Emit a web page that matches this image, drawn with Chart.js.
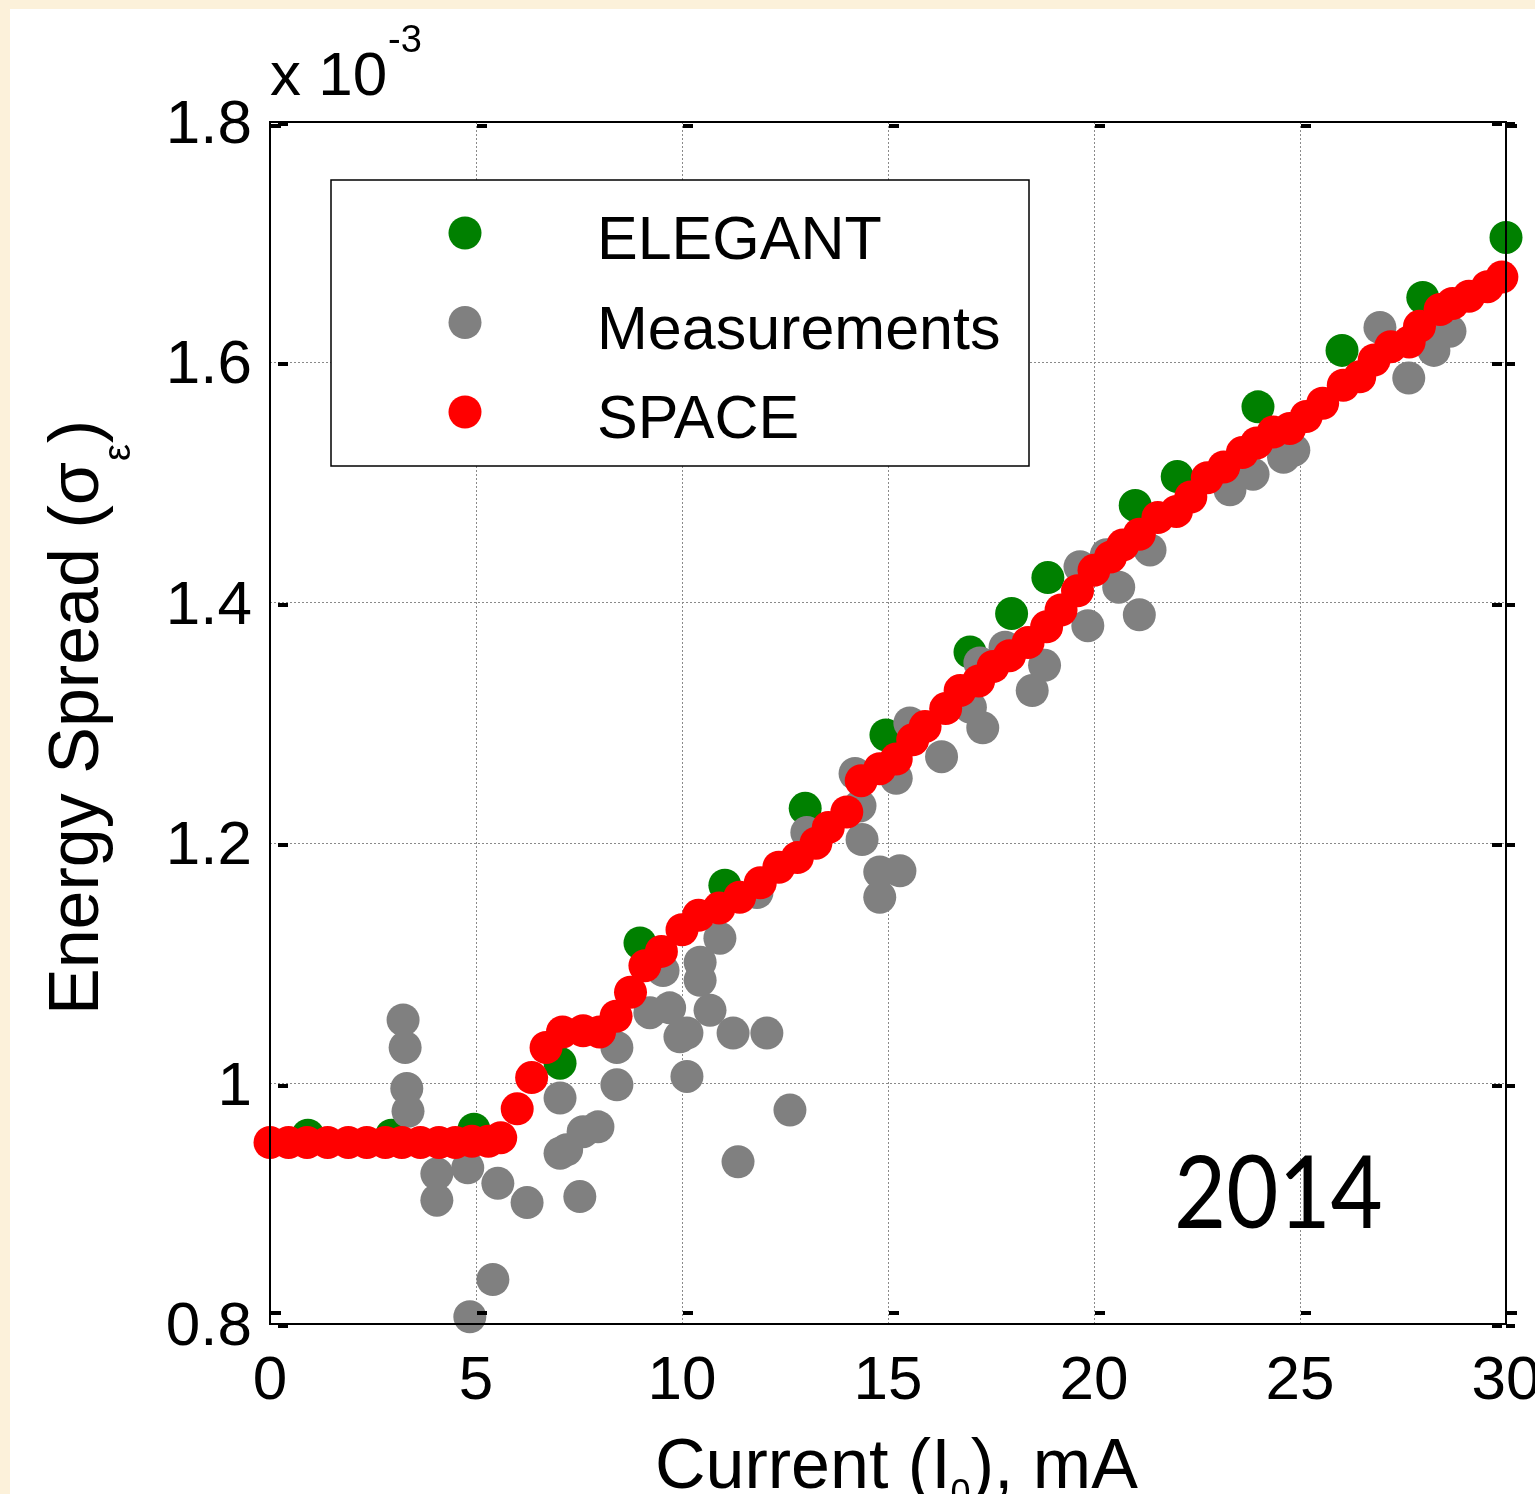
<!DOCTYPE html>
<html>
<head>
<meta charset="utf-8">
<title>Energy spread vs current</title>
<script src="https://cdn.jsdelivr.net/npm/chart.js@4/dist/chart.umd.min.js"></script>
<style>
  html, body { margin: 0; padding: 0; background: #fcf1da; }
  #wrap { width: 1535px; height: 1494px; }
</style>
</head>
<body>
<div id="wrap"><canvas id="chart" width="1535" height="1494"></canvas></div>
<script>
// axes (values of sigma in units of 1e-3)
const xTicks = [0, 5, 10, 15, 20, 25, 30];
const yTicks = [0.8, 1, 1.2, 1.4, 1.6, 1.8];
const seriesNames = ['ELEGANT', 'Measurements', 'SPACE'];
const seriesColors = ['#008000', '#808080', '#ff0000'];

// ELEGANT
const elegantX = [0.92, 2.95, 4.95, 7.04, 8.98, 11.04, 12.99, 14.95, 16.99, 18.0, 18.88, 21.0, 22.02, 23.98, 26.02, 27.98, 30.0];
const elegantY = [0.957, 0.957, 0.962, 1.017, 1.117, 1.165, 1.229, 1.290, 1.359, 1.391, 1.421, 1.481, 1.505, 1.563, 1.610, 1.654, 1.704];

// Measurements
const measX = [3.23, 3.28, 3.32, 3.35, 4.05, 4.05, 4.8, 4.85, 5.41, 5.53, 6.24, 7.04, 7.04, 7.2, 7.52, 7.6, 7.96,
  8.42, 8.42, 9.22, 9.54, 9.7, 9.95, 10.12, 10.12, 10.44, 10.44, 10.68, 10.92, 11.24, 11.36, 11.82, 12.06, 12.62,
  13.03, 14.2, 14.32, 14.37, 14.8, 14.8, 15.2, 15.29, 15.53, 16.3, 17.0, 17.23, 17.3, 17.84, 18.5, 18.8,
  19.66, 19.85, 20.3, 20.6, 21.1, 21.36, 23.3, 23.86, 24.6, 24.85, 26.94, 27.64, 28.25, 28.64];
const measY = [1.053, 1.030, 0.996, 0.977, 0.925, 0.903, 0.930, 0.806, 0.837, 0.917, 0.901, 0.988, 0.942, 0.945, 0.906, 0.960, 0.964,
  0.999, 1.030, 1.059, 1.094, 1.063, 1.039, 1.042, 1.006, 1.101, 1.086, 1.061, 1.121, 1.042, 0.935, 1.159, 1.042, 0.978,
  1.209, 1.258, 1.231, 1.203, 1.176, 1.155, 1.254, 1.177, 1.300, 1.272, 1.313, 1.350, 1.296, 1.363, 1.327, 1.348,
  1.430, 1.381, 1.440, 1.413, 1.390, 1.444, 1.494, 1.507, 1.521, 1.527, 1.629, 1.587, 1.610, 1.626];

// SPACE
const spaceX = [0.0, 0.45, 0.9, 1.4, 1.9, 2.35, 2.8, 3.2, 3.65, 4.1, 4.5, 4.9, 5.3, 5.6, 6.0, 6.35, 6.7, 7.1, 7.6, 8.0,
  8.4, 8.75, 9.1, 9.5, 10.0, 10.4, 10.9, 11.4, 11.9, 12.35, 12.8, 13.25, 13.55, 14.0, 14.35, 14.8, 15.2, 15.6, 15.9, 16.4,
  16.75, 17.2, 17.55, 17.95, 18.4, 18.85, 19.2, 19.6, 20.0, 20.4, 20.7, 21.1, 21.55, 22.0, 22.35, 22.75, 23.15, 23.6, 23.95, 24.35,
  24.75, 25.15, 25.55, 26.05, 26.45, 26.8, 27.2, 27.65, 27.9, 28.4, 28.7, 29.1, 29.55, 29.9];
const spaceY = [0.951, 0.951, 0.951, 0.951, 0.951, 0.951, 0.951, 0.951, 0.951, 0.951, 0.951, 0.952, 0.952, 0.955, 0.979, 1.005, 1.030, 1.043, 1.044, 1.043,
  1.056, 1.076, 1.098, 1.110, 1.128, 1.140, 1.146, 1.155, 1.167, 1.180, 1.188, 1.200, 1.213, 1.226, 1.252, 1.262, 1.270, 1.286, 1.297, 1.312,
  1.327, 1.335, 1.347, 1.356, 1.367, 1.380, 1.394, 1.410, 1.427, 1.438, 1.448, 1.457, 1.471, 1.476, 1.488, 1.504, 1.513, 1.525, 1.533, 1.542,
  1.545, 1.555, 1.566, 1.581, 1.588, 1.602, 1.613, 1.617, 1.630, 1.644, 1.649, 1.655, 1.663, 1.671];

const FONT = '"Liberation Sans", Arial, sans-serif';
const R = 16.5;
const pts = (xs, ys) => xs.map((x, i) => ({ x: x, y: ys[i] }));

// cream slide frame + white panel
const bgPlugin = {
  id: 'bg',
  beforeDraw(chart) {
    const { ctx, width, height } = chart;
    ctx.save();
    ctx.fillStyle = '#fcf1da';
    ctx.fillRect(0, 0, width, height);
    ctx.fillStyle = '#ffffff';
    ctx.fillRect(10, 9, width - 10, height - 9);
    ctx.restore();
  }
};

// axes box, tick marks, legend, titles
const overlayPlugin = {
  id: 'overlay',
  afterDraw(chart) {
    const { ctx, chartArea: a, scales } = chart;
    ctx.save();
    ctx.strokeStyle = '#000';
    ctx.lineWidth = 2;
    ctx.strokeRect(a.left, a.top, a.right - a.left, a.bottom - a.top);

    // little tick dashes (matlab style)
    ctx.fillStyle = '#000';
    yTicks.forEach(v => {
      const y = Math.round(scales.y.getPixelForValue(v));
      ctx.fillRect(a.left + 8, y, 10, 4);
      ctx.fillRect(a.right - 14, y, 10, 4);
      ctx.fillRect(a.right, y, 9, 4);
    });
    xTicks.forEach(v => {
      const x = Math.round(scales.x.getPixelForValue(v));
      ctx.fillRect(x + 1, a.top + 2, 10, 4);
      ctx.fillRect(x + 1, a.bottom - 13, 10, 4);
    });

    // legend
    const lx = a.left + 61, ly = a.top + 58, lw = 698, lh = 286;
    ctx.fillStyle = '#fff';
    ctx.fillRect(lx, ly, lw, lh);
    ctx.lineWidth = 1.5;
    ctx.strokeRect(lx, ly, lw, lh);
    ctx.font = '61px ' + FONT;
    ctx.textBaseline = 'alphabetic';
    ctx.textAlign = 'left';
    seriesNames.forEach((name, i) => {
      const cy = ly + 53 + i * 89.5;
      ctx.fillStyle = seriesColors[i];
      ctx.beginPath();
      ctx.arc(lx + 134, cy, R, 0, Math.PI * 2);
      ctx.fill();
      ctx.fillStyle = '#000';
      ctx.fillText(name, lx + 266, ly + 79 + i * 89.5);
    });

    // exponent label
    ctx.fillStyle = '#000';
    ctx.font = '62px ' + FONT;
    ctx.fillText('x 10', 270, 95);
    ctx.font = '38px ' + FONT;
    ctx.fillText('-3', 388, 52);

    // year
    ctx.save();
    ctx.translate(1174, 1228);
    ctx.scale(0.9, 1);
    ctx.font = '100px Lato, "Open Sans", sans-serif';
    ctx.fillText('2014', 0, 0);
    ctx.restore();

    // x title
    let x = 655;
    ctx.font = '70px ' + FONT;
    ctx.fillText('Current (I', x, 1488);
    x += ctx.measureText('Current (I').width;
    ctx.font = '36px ' + FONT;
    ctx.fillText('0', x, 1505);
    x += ctx.measureText('0').width;
    ctx.font = '70px ' + FONT;
    ctx.fillText('), mA', x, 1488);

    // y title
    ctx.save();
    ctx.translate(98, 1015);
    ctx.rotate(-Math.PI / 2);
    ctx.font = '70px ' + FONT;
    ctx.fillText('Energy Spread (\u03c3', 0, 0);
    let w = ctx.measureText('Energy Spread (\u03c3').width;
    ctx.font = '38px ' + FONT;
    ctx.fillText('\u03b5', w + 1, 32);
    w += ctx.measureText('\u03b5').width + 2;
    ctx.font = '70px ' + FONT;
    ctx.fillText(')', w, 0);
    ctx.restore();

    ctx.restore();
  }
};

const gridOpts = { color: '#8a8a8a', lineWidth: 1, drawTicks: false };

new Chart(document.getElementById('chart'), {
  type: 'scatter',
  data: {
    datasets: [
      { label: seriesNames[0], data: pts(elegantX, elegantY), pointBackgroundColor: seriesColors[0], order: 3 },
      { label: seriesNames[1], data: pts(measX, measY), pointBackgroundColor: seriesColors[1], order: 2 },
      { label: seriesNames[2], data: pts(spaceX, spaceY), pointBackgroundColor: seriesColors[2], order: 1 },
    ].map(d => Object.assign(d, { pointRadius: R, pointHoverRadius: R, pointBorderWidth: 0, clip: false })),
  },
  options: {
    responsive: false,
    animation: false,
    events: [],
    layout: { padding: { top: 122, right: 29, left: 0, bottom: 0 } },
    plugins: { legend: { display: false }, tooltip: { enabled: false } },
    scales: {
      x: {
        type: 'linear', min: 0, max: 30,
        afterBuildTicks: s => { s.ticks = xTicks.map(v => ({ value: v })); },
        afterFit: s => { s.height = 170; s.paddingLeft = 0; s.paddingRight = 0; },
        grid: gridOpts,
        border: { display: false, dash: [2, 2] },
        ticks: { color: '#000', font: { family: FONT, size: 62 }, padding: 21, maxRotation: 0, callback: v => String(v) },
      },
      y: {
        type: 'linear', min: 0.8, max: 1.8,
        afterBuildTicks: s => { s.ticks = yTicks.map(v => ({ value: v })); },
        afterFit: s => { s.width = 270; s.paddingTop = 0; s.paddingBottom = 0; },
        grid: gridOpts,
        border: { display: false, dash: [2, 2] },
        ticks: { color: '#000', font: { family: FONT, size: 62 }, padding: 18, labelOffset: 4, callback: v => String(+v.toFixed(1)) },
      },
    },
  },
  plugins: [bgPlugin, overlayPlugin],
});
</script>
</body>
</html>
